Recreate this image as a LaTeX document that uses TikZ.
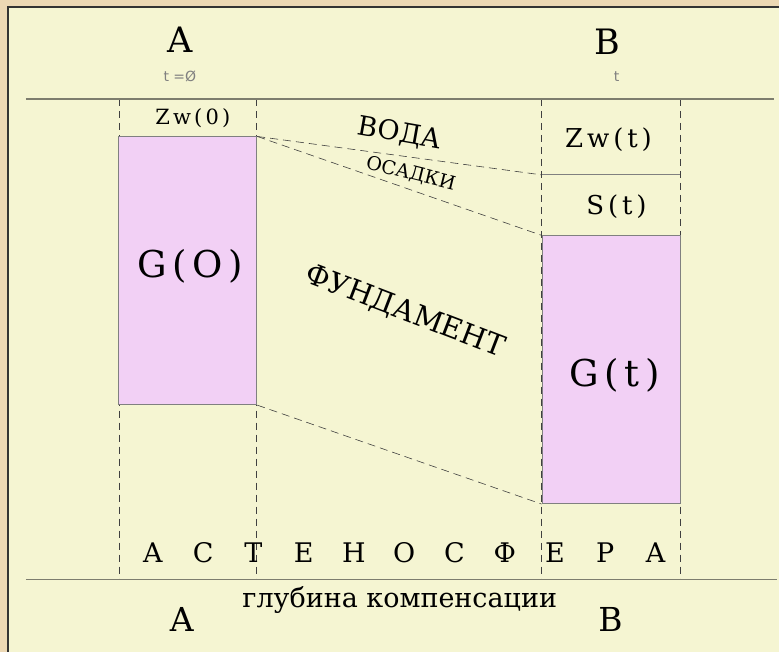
\documentclass[tikz,border=0pt]{standalone}
\usepackage{fontspec}
\setmainfont{DejaVu Serif}
\newfontfamily\techfont{DejaVu Sans}
\newfontfamily\wideserif[LetterSpace=15]{DejaVu Serif}
\usetikzlibrary{positioning}
\definecolor{paper}{RGB}{245,245,210}
\definecolor{frametan}{RGB}{236,216,180}
\definecolor{rockpink}{RGB}{242,208,245}
\definecolor{linegray}{RGB}{125,125,110}

\begin{document}
\begin{tikzpicture}[
    x=1pt, y=-1pt,
    level/.style={draw=linegray, line width=1.3pt},
    column/.style={draw=black!75, dash pattern=on 7pt off 5pt, line width=0.7pt},
    link/.style={draw=black!75, dash pattern=on 8pt off 5pt, line width=0.6pt},
    block/.style={rectangle, draw=gray, fill=rockpink, line width=0.9pt,
                  inner sep=0pt, minimum width=138pt, minimum height=268pt},
    station/.style={anchor=base, font=\fontsize{35}{35}\selectfont},
    timetag/.style={anchor=base, text=gray, font=\techfont\fontsize{14}{14}\selectfont},
    tag/.style={anchor=base, font=\wideserif\fontsize{26}{26}\selectfont},
    bigtag/.style={anchor=base, font=\wideserif\fontsize{37}{37}\selectfont},
    layer/.style={font=\fontsize{27}{27}\selectfont},
    letter/.style={anchor=base, font=\fontsize{27}{27}\selectfont}
]

%% ── Frame ──
\fill[frametan] (0,0) rectangle (780,652);
\fill[paper] (8,7) rectangle (780,652);
\draw[black!80, line width=1.2pt] (8,652) -- (8,7) -- (780,7);
\useasboundingbox (0,0) rectangle (780,652);

%% ── Columns A and B ──
\coordinate (aLtop) at (119,99);  \coordinate (aLbot) at (119,580);
\coordinate (aRtop) at (257,99);  \coordinate (aRbot) at (257,580);
\coordinate (bLtop) at (542,99);  \coordinate (bLbot) at (542,580);
\coordinate (bRtop) at (681,99);  \coordinate (bRbot) at (681,580);
\draw[column] (aLtop) -- (aLbot);
\draw[column] (aRtop) -- (aRbot);
\draw[column] (bLtop) -- (bLbot);
\draw[column] (bRtop) -- (bRbot);

%% ── Blocks ──
\node[block] (g0) at (188,271) {};
\node[block] (gt) at (611.5,370) {};
\node[bigtag] (g0lab) at (190,278) {G(O)};
\node[bigtag] (gtlab) at (615,387) {G(t)};

%% ── Levels ──
\coordinate (topL) at (26,99);   \coordinate (topR) at (775,99);
\coordinate (botL) at (26,580);  \coordinate (botR) at (778,580);
\draw[level] (topL) -- (topR);
\draw[level] (botL) -- (botR);
\coordinate (sedL) at (542,175); \coordinate (sedR) at (681,175);
\draw[draw=gray, line width=0.9pt] (sedL) -- (sedR);

%% ── Dashed links ──
\draw[link] (g0.north east) -- (sedL);
\draw[link] (g0.north east) -- (gt.north west);
\draw[link] (g0.south east) -- (gt.south west);

%% ── Labels ──
\node[station] (atop) at (180,53) {A};
\node[timetag] (t0) at (180,82) {t =Ø};
\node[station] (btop) at (608,55) {B};
\node[timetag] (t1) at (617,82) {t};
\node[tag, font=\wideserif\fontsize{21}{21}\selectfont] (zw0) at (193,125) {Zw(0)};
\node[tag] (zwt) at (609,148) {Zw(t)};
\node[tag] (st) at (617,215) {S(t)};
\node[layer, rotate=-10] (voda) at (400,134) {ВОДА};
\node[layer, rotate=-14, font=\fontsize{19}{19}\selectfont] (osadki) at (411,174) {ОСАДКИ};
\node[layer, rotate=-21, font=\fontsize{29}{29}\selectfont] (fund) at (405,312) {ФУНДАМЕНТ};
\foreach \ch [count=\i from 0] in {А,С,Т,Е,Н,О,С,Ф,Е,Р,А}
  \node[letter] (ast\i) at (153+50.3*\i,563) {\ch};
\node[anchor=base, font=\fontsize{27}{27}\selectfont] (depth) at (400,608) {глубина компенсации};
\node[station, font=\fontsize{33}{33}\selectfont] (abot) at (182,632) {A};
\node[station, font=\fontsize{33}{33}\selectfont] (bbot) at (611,632) {B};

\end{tikzpicture}
\end{document}
